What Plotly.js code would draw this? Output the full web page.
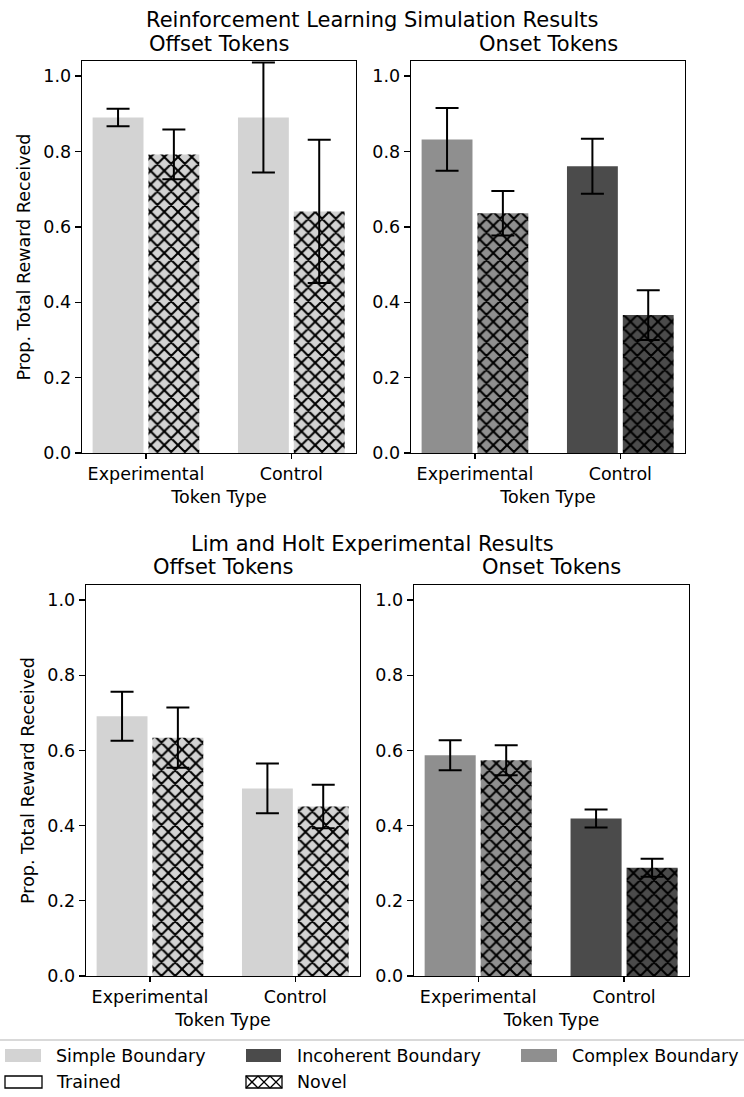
<!DOCTYPE html>
<html>
<head>
<meta charset="utf-8">
<script src="https://cdn.plot.ly/plotly-3.0.1.min.js"></script>
<style>html,body{margin:0;padding:0;background:#fff;}#chart{width:744px;height:1097px;}</style>
</head>
<body>
<div id="chart"></div>
<script>
// ---------------- data ----------------
const categories = ['Experimental', 'Control'];
const tickValues = [0, 0.2, 0.4, 0.6, 0.8, 1.0];
const tickLabels = ['0.0', '0.2', '0.4', '0.6', '0.8', '1.0'];

// Reinforcement Learning Simulation Results
const rlOffsetTrained = [0.890, 0.890];
const rlOffsetTrainedErr = [0.023, 0.146];
const rlOffsetNovel = [0.792, 0.641];
const rlOffsetNovelErr = [0.066, 0.190];
const rlOnsetTrained = [0.832, 0.761];
const rlOnsetTrainedErr = [0.083, 0.073];
const rlOnsetNovel = [0.636, 0.366];
const rlOnsetNovelErr = [0.059, 0.066];

// Lim and Holt Experimental Results
const lhOffsetTrained = [0.691, 0.499];
const lhOffsetTrainedErr = [0.065, 0.066];
const lhOffsetNovel = [0.634, 0.451];
const lhOffsetNovelErr = [0.080, 0.058];
const lhOnsetTrained = [0.587, 0.419];
const lhOnsetTrainedErr = [0.040, 0.024];
const lhOnsetNovel = [0.574, 0.288];
const lhOnsetNovelErr = [0.040, 0.024];

const legendLabels = ['Simple Boundary', 'Incoherent Boundary', 'Complex Boundary', 'Trained', 'Novel'];
const suptitles = ['Reinforcement Learning Simulation Results', 'Lim and Holt Experimental Results'];
const panelTitles = ['Offset Tokens', 'Onset Tokens'];
const xTitle = 'Token Type';
const yTitle = 'Prop. Total Reward Received';

// ---------------- style ----------------
const SIMPLE = '#d3d3d3', INCOH = '#4b4b4b', COMPLEX = '#8f8f8f';
const offsetColors = [SIMPLE, SIMPLE];
const onsetColors = [COMPLEX, INCOH];
const W = 744, H = 1097;
const px = x => x / W;
const py = y => 1 - y / H;
const FONT = 'DejaVu Sans, Liberation Sans, sans-serif';

function errSpec(arr) {
  return {type: 'data', array: arr, visible: true, color: '#000', thickness: 2, width: 11.5};
}
function trainedTrace(y, err, colors, ax) {
  return {type: 'bar', x: categories, y: y, xaxis: 'x' + ax, yaxis: 'y' + ax,
    width: 0.35, offset: -0.367,
    marker: {color: colors, line: {width: 0}},
    error_y: errSpec(err), hoverinfo: 'skip', showlegend: false};
}
// hatched bars: one trace per category so each gets a scalar fill colour
function novelTraces(y, err, colors, ax) {
  return categories.map((c, i) => ({type: 'bar', x: [c], y: [y[i]], xaxis: 'x' + ax, yaxis: 'y' + ax,
    width: 0.35, offset: 0.017,
    marker: {color: colors[i], line: {width: 0},
      pattern: {shape: 'x', fgcolor: '#000000', bgcolor: colors[i], fgopacity: 1, size: 9.7, solidity: 0.38, fillmode: 'replace'}},
    error_y: errSpec([err[i]]), hoverinfo: 'skip', showlegend: false}));
}

const data = [
  trainedTrace(rlOffsetTrained, rlOffsetTrainedErr, offsetColors, ''),
  ...novelTraces(rlOffsetNovel, rlOffsetNovelErr, offsetColors, ''),
  trainedTrace(rlOnsetTrained, rlOnsetTrainedErr, onsetColors, '2'),
  ...novelTraces(rlOnsetNovel, rlOnsetNovelErr, onsetColors, '2'),
  trainedTrace(lhOffsetTrained, lhOffsetTrainedErr, offsetColors, '3'),
  ...novelTraces(lhOffsetNovel, lhOffsetNovelErr, offsetColors, '3'),
  trainedTrace(lhOnsetTrained, lhOnsetTrainedErr, onsetColors, '4'),
  ...novelTraces(lhOnsetNovel, lhOnsetNovelErr, onsetColors, '4')
];

// panel pixel boxes [left, right, top, bottom]
const boxes = [[82, 356, 61, 453], [411, 685, 61, 453], [86, 360, 585, 976], [414, 689, 585, 976]];

function xax(b, anchor) {
  return {domain: [px(b[0]), px(b[1])], anchor: anchor, type: 'category',
    categoryorder: 'array', categoryarray: categories,
    range: [-0.44, 1.445], showline: true, mirror: true, linecolor: '#000', linewidth: 1.3,
    ticks: 'outside', ticklen: 5, tickwidth: 1.3, tickcolor: '#000', showgrid: false, zeroline: false,
    tickfont: {size: 17.5, family: FONT, color: '#000'},
    title: {text: xTitle, font: {size: 17.5, family: FONT, color: '#000'}, standoff: 7}};
}
function yax(b, anchor, withTitle) {
  const o = {domain: [py(b[3]), py(b[2])], anchor: anchor, range: [0, 1.04],
    showline: true, mirror: true, linecolor: '#000', linewidth: 1.3,
    ticks: 'outside', ticklen: 6, tickwidth: 1.3, tickcolor: '#000', showgrid: false, zeroline: false,
    tickmode: 'array', tickvals: tickValues, ticktext: tickLabels,
    tickfont: {size: 17.5, family: FONT, color: '#000'}};
  if (withTitle) o.title = {text: yTitle, font: {size: 17.5, family: FONT, color: '#000'}, standoff: 8};
  return o;
}

const annotations = [];
const tf = {size: 21, family: FONT, color: '#000'};
annotations.push({text: suptitles[0], x: px(372), y: py(20), xref: 'paper', yref: 'paper', showarrow: false, xanchor: 'center', yanchor: 'middle', font: tf});
annotations.push({text: suptitles[1], x: px(372), y: py(544), xref: 'paper', yref: 'paper', showarrow: false, xanchor: 'center', yanchor: 'middle', font: tf});
const titleY = [44, 44, 567, 567];
boxes.forEach((b, i) => {
  annotations.push({text: panelTitles[i % 2], x: px((b[0] + b[1]) / 2), y: py(titleY[i]), xref: 'paper', yref: 'paper', showarrow: false, xanchor: 'center', yanchor: 'middle', font: tf});
});

// legend (proxy swatches + labels)
const lf = {size: 17.5, family: FONT, color: '#000'};
const legendPos = [[54, 1055.5], [295, 1055.5], [570, 1055.5], [54, 1081.5], [295, 1081.5]];
legendLabels.forEach((t, i) => {
  annotations.push({text: t, x: px(legendPos[i][0]), y: py(legendPos[i][1]), xref: 'paper', yref: 'paper', showarrow: false, xanchor: 'left', yanchor: 'middle', font: lf});
});

const shapes = [
  {type: 'line', xref: 'paper', yref: 'paper', x0: 0, x1: 1, y0: py(1040), y1: py(1040), line: {color: '#cccccc', width: 1.3}},
  {type: 'rect', xref: 'paper', yref: 'paper', x0: px(5), x1: px(41), y0: py(1062), y1: py(1049), fillcolor: SIMPLE, line: {width: 0}},
  {type: 'rect', xref: 'paper', yref: 'paper', x0: px(246), x1: px(281), y0: py(1062), y1: py(1049), fillcolor: INCOH, line: {width: 0}},
  {type: 'rect', xref: 'paper', yref: 'paper', x0: px(521), x1: px(557), y0: py(1062), y1: py(1049), fillcolor: COMPLEX, line: {width: 0}},
  {type: 'rect', xref: 'paper', yref: 'paper', x0: px(5), x1: px(42), y0: py(1088), y1: py(1076), fillcolor: 'rgba(0,0,0,0)', line: {color: '#000', width: 1.3}}
];
// hatched swatch for "Novel"
(function () {
  const x0 = 246, x1 = 282, y0 = 1076, y1 = 1088, step = 12;
  shapes.push({type: 'rect', xref: 'paper', yref: 'paper', x0: px(x0), x1: px(x1), y0: py(y1), y1: py(y0), fillcolor: 'rgba(0,0,0,0)', line: {color: '#000', width: 1.3}});
  for (let s = x0; s < x1; s += step) {
    shapes.push({type: 'line', xref: 'paper', yref: 'paper', x0: px(s), y0: py(y0), x1: px(s + step), y1: py(y1), line: {color: '#000', width: 1.3}});
    shapes.push({type: 'line', xref: 'paper', yref: 'paper', x0: px(s), y0: py(y1), x1: px(s + step), y1: py(y0), line: {color: '#000', width: 1.3}});
  }
})();

const layout = {
  width: W, height: H, margin: {l: 0, r: 0, t: 0, b: 0},
  paper_bgcolor: '#fff', plot_bgcolor: '#fff', showlegend: false,
  font: {family: FONT, color: '#000'},
  barmode: 'overlay',
  xaxis: xax(boxes[0], 'y'), yaxis: yax(boxes[0], 'x', true),
  xaxis2: xax(boxes[1], 'y2'), yaxis2: yax(boxes[1], 'x2', false),
  xaxis3: xax(boxes[2], 'y3'), yaxis3: yax(boxes[2], 'x3', true),
  xaxis4: xax(boxes[3], 'y4'), yaxis4: yax(boxes[3], 'x4', false),
  annotations: annotations, shapes: shapes
};

Plotly.newPlot('chart', data, layout, {staticPlot: true, displayModeBar: false});
</script>
</body>
</html>
